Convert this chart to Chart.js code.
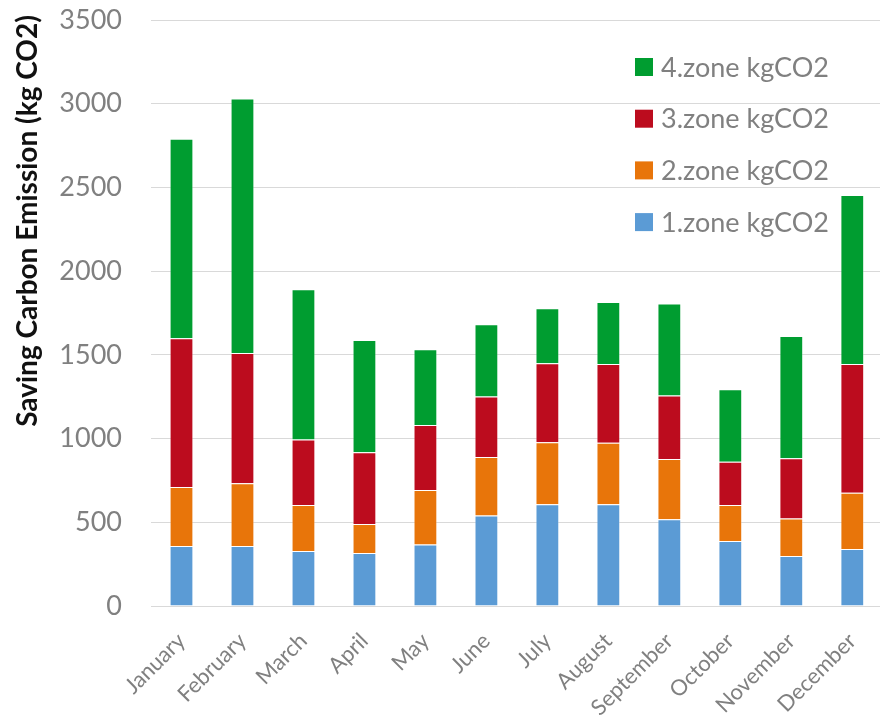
<!DOCTYPE html>
<html>
<head>
<meta charset="utf-8">
<script src="https://cdn.jsdelivr.net/npm/chart.js@4/dist/chart.umd.min.js"></script>
<style>
  html, body { margin: 0; padding: 0; background: #fff; overflow: hidden; }
  #wrap { width: 893px; height: 722px; }
</style>
</head>
<body>
<div id="wrap"><canvas id="c" width="893" height="722"></canvas></div>
<script>
// Monthly saved carbon emission per zone (kg CO2)
const months = ['January', 'February', 'March', 'April', 'May', 'June',
  'July', 'August', 'September', 'October', 'November', 'December'];
const zone1 = [358, 358, 329, 317, 368, 540, 607, 607, 518, 388, 299, 341];
const zone2 = [353, 375, 274, 173, 325, 350, 371, 368, 360, 215, 223, 336];
const zone3 = [888, 778, 391, 428, 388, 361, 472, 471, 379, 259, 360, 769];
const zone4 = [1191, 1520, 898, 671, 452, 432, 328, 370, 549, 432, 731, 1009];
const yTicks = [0, 500, 1000, 1500, 2000, 2500, 3000, 3500];

const seriesNames = ['1.zone kgCO2', '2.zone kgCO2', '3.zone kgCO2', '4.zone kgCO2'];
const seriesColors = ['#5B9BD5', '#E8750A', '#BC0C1E', '#009D30'];
const seriesData = [zone1, zone2, zone3, zone4];

const FONT = 'Lato, "Open Sans", sans-serif';
const GREY = '#808080';

// Legend listed top-down from the last series, drawn inside the plot
const sideLegend = {
  id: 'sideLegend',
  afterDraw(chart) {
    const ctx = chart.ctx;
    ctx.save();
    ctx.font = '27px ' + FONT;
    ctx.textBaseline = 'middle';
    ctx.textAlign = 'left';
    const ds = chart.data.datasets.slice().reverse();
    ds.forEach((d, i) => {
      const cy = 67 + i * 51.7;
      ctx.fillStyle = d.backgroundColor;
      ctx.fillRect(635, cy - 9, 18, 18);
      ctx.fillStyle = GREY;
      ctx.fillText(d.label, 661, cy + 1);
    });
    ctx.restore();
  }
};

// Vertical axis title
const yTitle = {
  id: 'yTitle',
  afterDraw(chart) {
    const ctx = chart.ctx;
    ctx.save();
    ctx.translate(28, 221);
    ctx.rotate(-Math.PI / 2);
    ctx.font = 'bold 28px ' + FONT;
    ctx.fillStyle = '#111';
    ctx.textAlign = 'center';
    ctx.textBaseline = 'middle';
    ctx.fillText('Saving Carbon Emission (kg CO2)', 0, 0);
    ctx.restore();
  }
};

new Chart(document.getElementById('c'), {
  type: 'bar',
  data: {
    labels: months,
    datasets: seriesData.map((vals, i) => ({
      label: seriesNames[i],
      data: vals,
      backgroundColor: seriesColors[i],
      borderColor: 'rgba(255,255,255,0.3)',
      borderWidth: 1,
      barPercentage: 0.39,
      categoryPercentage: 1.0
    }))
  },
  options: {
    responsive: false,
    animation: false,
    layout: { padding: { top: 20, right: 1, left: 0, bottom: 0 } },
    plugins: {
      legend: { display: false },
      tooltip: { enabled: false }
    },
    scales: {
      x: {
        stacked: true,
        grid: { display: false, drawTicks: false },
        border: { display: true, color: '#d9d9d9', width: 1 },
        ticks: {
          color: GREY,
          font: { family: FONT, size: 22 },
          minRotation: 45,
          maxRotation: 45,
          padding: 22,
          autoSkip: false
        },
        afterFit(scale) { scale.height = 116; }
      },
      y: {
        stacked: true,
        min: 0,
        max: 3500,
        afterBuildTicks(scale) { scale.ticks = yTicks.map(v => ({ value: v })); },
        grid: {
          color: '#d9d9d9',
          lineWidth: 1,
          drawTicks: true,
          tickLength: 29,
          tickColor: 'rgba(0,0,0,0)'
        },
        border: { display: false },
        ticks: {
          color: GREY,
          font: { family: FONT, size: 27 },
          padding: 0,
          callback: v => String(v)
        },
        afterFit(scale) { scale.width = 151; }
      }
    }
  },
  plugins: [sideLegend, yTitle]
});
</script>
</body>
</html>
